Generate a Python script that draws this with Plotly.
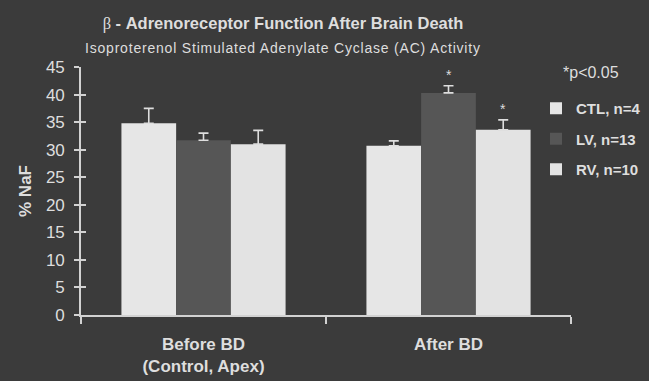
import plotly.graph_objects as go

categories = ["Before BD", "After BD"]
tick_labels = ["<b>Before BD</b><br><b>(Control, Apex)</b>", "<b>After BD</b>"]
series_names = ["CTL, n=4", "LV, n=13", "RV, n=10"]
ctl_values = [34.8, 30.7]
lv_values = [31.7, 40.3]
rv_values = [31.0, 33.6]
ctl_err = [2.7, 0.9]
lv_err = [1.3, 1.3]
rv_err = [2.5, 1.8]
significant = {"LV, n=13": [False, True], "RV, n=10": [False, True], "CTL, n=4": [False, False]}

BG = "#3b3b3b"
TXT = "#dedede"
AX = "#d2d2d2"
colors = ["#e6e6e6", "#565656", "#e3e3e3"]
FONT = "Liberation Sans, Arial, sans-serif"

fig = go.Figure()
vals = [ctl_values, lv_values, rv_values]
errs = [ctl_err, lv_err, rv_err]
for i, name in enumerate(series_names):
    fig.add_trace(go.Bar(
        x=categories, y=vals[i], name=name, legendgroup=name,
        marker=dict(color=colors[i], line=dict(width=0)),
        error_y=dict(type="data", symmetric=False, array=errs[i],
                     arrayminus=[0] * len(errs[i]), color="#dedede",
                     thickness=1.6, width=5),
        hoverinfo="skip",
    ))

# invisible trace to carry secondary y axis for inner tick marks
fig.add_trace(go.Scatter(x=[categories[0]], y=[0], yaxis="y2", mode="markers",
                         marker=dict(opacity=0), showlegend=False, hoverinfo="skip"))

L, R, T, B = 81, 78, 67, 66
W, H = 649, 381
pw = W - L - R
ph = H - T - B
bargap = 0.33
slot = pw / len(categories) * (1 - bargap) / 3

for i, name in enumerate(series_names):
    for j, cat in enumerate(categories):
        if significant[name][j]:
            fig.add_annotation(x=cat, y=vals[i][j] + errs[i][j], xref="x", yref="y",
                               text="*", showarrow=False, yanchor="bottom",
                               xshift=(i - 1) * slot, yshift=1,
                               font=dict(family=FONT, size=14, color=TXT))

fig.add_annotation(text="<span style='letter-spacing:0.8px'>Isoproterenol Stimulated Adenylate Cyclase (AC) Activity</span>",
                   xref="paper", yref="paper", x=(283 - L) / pw, y=(315 - 48) / ph,
                   xanchor="center", yanchor="middle", showarrow=False,
                   font=dict(family=FONT, size=14, color=TXT))
fig.add_annotation(text="*p<0.05", xref="paper", yref="paper",
                   x=(561 - L) / pw, y=(315 - 72) / ph,
                   xanchor="left", yanchor="middle", showarrow=False,
                   font=dict(family=FONT, size=16, color=TXT))

fig.update_layout(
    width=W, height=H,
    margin=dict(l=L, r=R, t=T, b=B, autoexpand=False),
    paper_bgcolor=BG, plot_bgcolor=BG,
    barmode="group", bargap=bargap, bargroupgap=0,
    title=dict(text="<span style='font-family:Liberation Serif;font-weight:normal'>β</span> - Adrenoreceptor Function After Brain Death",
               x=283 / W, xanchor="center", y=1 - 23 / H, yanchor="middle",
               font=dict(family=FONT, size=16.5, color=TXT, weight="bold")),
    showlegend=True,
    legend=dict(x=(536 - L) / pw, xanchor="left", y=(315 - 92) / ph, yanchor="top",
                bgcolor="rgba(0,0,0,0)", borderwidth=0, traceorder="grouped",
                tracegroupgap=8,
                font=dict(family=FONT, size=15, color=TXT, weight="bold")),
    xaxis=dict(tickmode="array", tickvals=categories, ticktext=tick_labels,
               range=[-0.5, 1.5], tickson="boundaries", ticks="outside", ticklen=7,
               tickwidth=1.6, tickcolor=AX, showline=True, linecolor=AX, linewidth=1.6,
               showgrid=False, zeroline=False, ticklabelstandoff=13,
               tickfont=dict(family=FONT, size=17, color=TXT)),
    yaxis=dict(range=[0, 45], tickvals=list(range(0, 46, 5)), ticks="outside", ticklen=5,
               tickwidth=1.6, tickcolor=AX, showline=True, linecolor=AX, linewidth=1.6,
               showgrid=False, zeroline=False, ticklabelstandoff=6,
               tickfont=dict(family=FONT, size=17, color=TXT),
               title=dict(text="<b>% NaF</b>", standoff=10,
                          font=dict(family=FONT, size=17, color=TXT))),
    yaxis2=dict(range=[0, 45], tickvals=list(range(0, 46, 5)), overlaying="y", side="left",
                ticks="inside", ticklen=5, tickwidth=1.6, tickcolor=AX,
                showticklabels=False, showgrid=False, zeroline=False, showline=False),
)

fig.write_html("out.html")
